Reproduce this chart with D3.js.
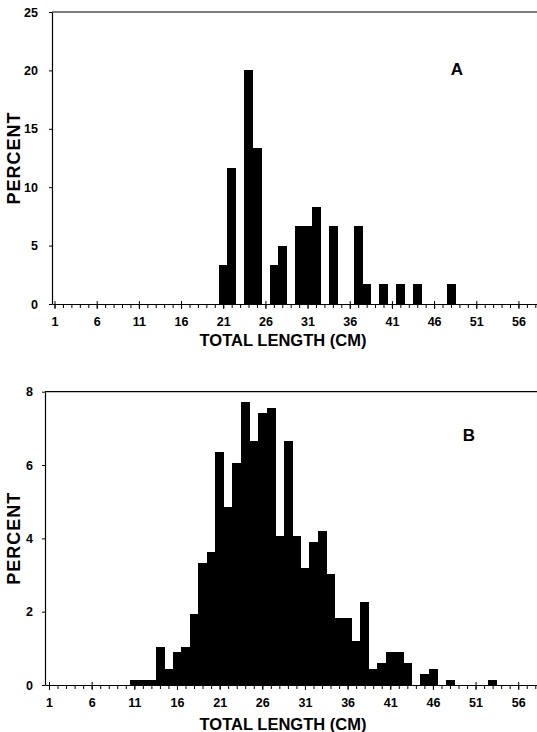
<!DOCTYPE html>
<html lang="en">
  <head>
    <meta charset="UTF-8">
    <title>Total length histograms</title>
    <style>
      body { margin: 0; background: #fff; }
      svg { display: block; }
      text { font-family: "Liberation Sans", Arial, sans-serif; font-weight: bold; fill: #000; }
    </style>
    <script src="https://d3js.org/d3.v7.min.js"></script>
  </head>
  <body>
    <script>
      // panel A: length (cm) and percent
      var lengthsA = [21, 22, 24, 25, 27, 28, 30, 31, 32, 34, 37, 38, 40, 42, 44, 48];
      var percentA = [3.33, 11.67, 20, 13.33, 3.33, 5, 6.67, 6.67, 8.33, 6.67, 6.67, 1.67, 1.67, 1.67, 1.67, 1.67];

      // panel B
      var lengthsB = [11, 12, 13, 14, 15, 16, 17, 18, 19, 20, 21, 22, 23, 24, 25, 26, 27, 28, 29, 30,
                      31, 32, 33, 34, 35, 36, 37, 38, 39, 40, 41, 42, 43, 45, 46, 48, 53];
      var percentB = [0.14, 0.14, 0.14, 1.05, 0.45, 0.91, 1.05, 1.95, 3.34, 3.62, 6.35, 4.85, 6.05, 7.71, 6.65, 7.41, 7.55, 4.07, 6.66, 4.07,
                      3.18, 3.91, 4.21, 3.02, 1.82, 1.82, 1.2, 2.27, 0.45, 0.59, 0.91, 0.91, 0.59, 0.29, 0.45, 0.15, 0.14];

      var xTicks = [1, 6, 11, 16, 21, 26, 31, 36, 41, 46, 51, 56];
      var yTicksA = [0, 5, 10, 15, 20, 25];
      var yTicksB = [0, 2, 4, 6, 8];

      var svg = d3.select("body").append("svg")
        .attr("width", 537)
        .attr("height", 732);

      function panel(opt) {
        var x = d3.scaleLinear().domain(opt.xDomain).range([opt.left, 537]);
        var y = d3.scaleLinear().domain(opt.yDomain).range([opt.bottom, opt.top]);
        var g = svg.append("g");

        // bars, one per 1 cm class centred on the length
        g.selectAll("rect").data(opt.lengths).enter().append("rect")
          .attr("x", function (d) { return x(d - 0.5); })
          .attr("width", function (d) { return x(d + 0.5) - x(d - 0.5) + 0.5; })
          .attr("y", function (d, i) { return y(opt.values[i]); })
          .attr("height", function (d, i) { return y(0) - y(opt.values[i]); })
          .attr("fill", "#000")
          .attr("shape-rendering", "crispEdges");

        // top frame line
        g.append("line")
          .attr("x1", opt.left).attr("x2", 537)
          .attr("y1", opt.top).attr("y2", opt.top)
          .attr("stroke", "#000").attr("stroke-width", 1.2);

        // minor ticks every cm
        var minor = d3.range(1, 59);
        g.append("g")
          .attr("transform", "translate(0," + opt.bottom + ")")
          .call(d3.axisBottom(x).tickValues(minor).tickSize(4).tickSizeOuter(0).tickFormat(""))
          .call(function (s) { s.select(".domain").attr("stroke-width", 1); });

        // major ticks and labels
        var xa = g.append("g")
          .attr("transform", "translate(0," + opt.bottom + ")")
          .call(d3.axisBottom(x).tickValues(xTicks).tickSize(5).tickSizeOuter(0).tickPadding(8));
        xa.select(".domain").remove();
        xa.selectAll(".tick line").attr("y1", -3);
        xa.selectAll("text").style("font-size", "12.5px").attr("font-family", null).attr("fill", null);

        var ya = g.append("g")
          .attr("transform", "translate(" + opt.left + ",0)")
          .call(d3.axisLeft(y).tickValues(opt.yTicks).tickSize(3).tickSizeOuter(0).tickPadding(opt.pad));
        ya.select(".domain").attr("stroke-width", 1.2);
        ya.selectAll("text").style("font-size", "12.5px").attr("font-family", null).attr("fill", null);

        g.append("text")
          .attr("transform", "translate(20," + ((opt.top + opt.bottom) / 2) + ") rotate(-90)")
          .attr("text-anchor", "middle")
          .style("font-size", "18px")
          .style("letter-spacing", "1px")
          .text("PERCENT");

        g.append("text")
          .attr("x", 283).attr("y", opt.bottom + opt.titleDy)
          .attr("text-anchor", "middle")
          .style("font-size", "16.5px")
          .text("TOTAL LENGTH (CM)");

        g.append("text")
          .attr("x", opt.labelX).attr("y", opt.labelY)
          .attr("text-anchor", "middle")
          .style("font-size", "17px")
          .text(opt.label);
      }

      panel({
        lengths: lengthsA, values: percentA, yTicks: yTicksA,
        xDomain: [0.7, 58.2], yDomain: [0, 25],
        left: 52, top: 12, bottom: 304, pad: 11, titleDy: 42,
        label: "A", labelX: 457, labelY: 75
      });

      panel({
        lengths: lengthsB, values: percentB, yTicks: yTicksB,
        xDomain: [0.53, 58.2], yDomain: [0, 8],
        left: 45, top: 391.7, bottom: 685, pad: 9, titleDy: 45,
        label: "B", labelX: 469, labelY: 441
      });
    </script>
  </body>
</html>
